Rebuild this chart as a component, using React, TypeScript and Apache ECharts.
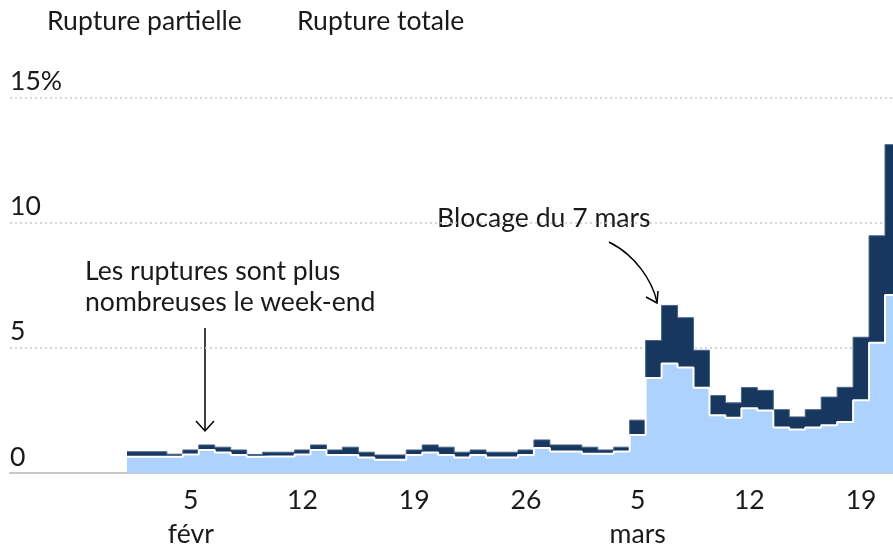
import React, { useEffect, useRef } from "react";
import * as echarts from "echarts";

// One value per day, index 0 = 1 févr 2023, last = 21 mars 2023
const partielle = [
  0.65, 0.65, 0.65, 0.65, 0.74, 0.92, 0.82, 0.72, 0.65, 0.66, 0.66, 0.74, 0.92, 0.72,
  0.72, 0.62, 0.53, 0.53, 0.72, 0.82, 0.72, 0.62, 0.72, 0.62, 0.62, 0.72, 1.0, 0.86,
  0.86, 0.77, 0.77, 0.86, 1.52, 3.79, 4.37, 4.21, 3.4, 2.31, 2.21, 2.59, 2.5, 1.82,
  1.74, 1.82, 1.91, 2.04, 2.9, 5.2, 7.11,
];
const totale = [
  0.2, 0.2, 0.2, 0.1, 0.18, 0.2, 0.21, 0.2, 0.09, 0.17, 0.17, 0.18, 0.2, 0.2,
  0.31, 0.21, 0.19, 0.19, 0.2, 0.3, 0.31, 0.21, 0.2, 0.21, 0.21, 0.2, 0.32, 0.26,
  0.26, 0.26, 0.15, 0.17, 0.59, 1.5, 2.32, 1.99, 1.5, 0.78, 0.59, 0.82, 0.8, 0.71,
  0.5, 0.71, 1.12, 1.38, 2.52, 4.27, 6.0,
];
// tick positions as day index from 1 févr
const tickDays = [4, 11, 18, 25, 32, 39, 46];
const tickLabels = ["5\nfévr", "12", "19", "26", "5\nmars", "12", "19"];
const seriesNames = ["Rupture partielle", "Rupture totale"];

const LIGHT = "#acd2fd";
const DARK = "#17375f";
const TEXT = "#1a1a1a";
const FONT = "Lato";
const FS = 26.6;

export default function App() {
  const ref = useRef<HTMLDivElement>(null);
  useEffect(() => {
    const chart = echarts.init(ref.current!, null, { renderer: "svg" });
    const txt = { fontFamily: FONT, fontSize: FS, color: TEXT };
    // stacked top of "Rupture totale" = partielle + totale
    const stackedTop = totale.map((v, i) => [i, +(partielle[i] + v).toFixed(2)]);
    chart.setOption({
      animation: false,
      grid: { left: 10, right: -6, top: 97.3, bottom: 73.3 },
      legend: [
        {
          data: [seriesNames[0]], left: 42, top: 4, padding: 0, itemWidth: 0, itemHeight: 32,
          icon: "none", selectedMode: false, textStyle: txt,
        },
        {
          data: [seriesNames[1]], left: 292, top: 4, padding: 0, itemWidth: 0, itemHeight: 32,
          icon: "none", selectedMode: false, textStyle: txt,
        },
      ],
      xAxis: {
        type: "value",
        min: -7.33,
        max: 48,
        axisLine: { show: true, lineStyle: { color: "#c8c8c8", width: 2 } },
        axisTick: { show: false },
        splitLine: { show: false },
        axisLabel: {
          customValues: tickDays,
          formatter: (v: number) => {
            const i = tickDays.indexOf(Math.round(v));
            return i >= 0 ? tickLabels[i] : "";
          },
          ...txt,
          lineHeight: 34,
          margin: 9,
        },
      },
      yAxis: {
        type: "value",
        min: 0,
        max: 15,
        interval: 5,
        axisLine: { show: false },
        axisTick: { show: false },
        axisLabel: {
          inside: true,
          margin: 0,
          verticalAlign: "bottom",
          padding: [0, 0, 4, 0],
          formatter: (v: number) => (v === 15 ? "15%" : String(v)),
          ...txt,
        },
        splitLine: { lineStyle: { type: [2, 3], color: "#cccccc", width: 1.5 } },
      },
      series: [
        {
          name: seriesNames[0],
          type: "line",
          step: "middle",
          symbol: "none",
          color: LIGHT,
          z: 3,
          data: partielle.map((v, i) => [i, v]),
          lineStyle: { color: "#ffffff", width: 2 },
          areaStyle: { color: LIGHT, opacity: 1 },
        },
        {
          name: seriesNames[1],
          type: "line",
          step: "middle",
          symbol: "none",
          color: DARK,
          z: 2,
          data: stackedTop,
          lineStyle: { color: "#4a6488", width: 1 },
          areaStyle: { color: DARK, opacity: 1 },
        },
      ],
      graphic: [
        {
          type: "text",
          left: 85,
          top: 254,
          style: {
            text: "Les ruptures sont plus\nnombreuses le week-end",
            font: `${FS}px ${FONT}`,
            fill: TEXT,
            lineHeight: 31,
          },
        },
        {
          type: "line",
          shape: { x1: 205, y1: 328, x2: 205, y2: 431 },
          style: { stroke: "#000", lineWidth: 1.5 },
        },
        {
          type: "polyline",
          shape: { points: [[196, 421], [205, 431], [214, 421]] },
          style: { stroke: "#000", lineWidth: 1.5, fill: null },
        },
        {
          type: "text",
          left: 437,
          top: 203,
          style: { text: "Blocage du 7 mars", font: `${FS}px ${FONT}`, fill: TEXT },
        },
        {
          type: "bezierCurve",
          shape: { x1: 609, y1: 242, cpx1: 635, cpy1: 255, cpx2: 652, cpy2: 280, x2: 657, y2: 302 },
          style: { stroke: "#000", lineWidth: 1.5, fill: null },
        },
        {
          type: "polyline",
          shape: { points: [[646, 297], [657, 303], [658, 291]] },
          style: { stroke: "#000", lineWidth: 1.5, fill: null },
        },
      ],
    });
    return () => chart.dispose();
  }, []);
  return (
    <div
      ref={ref}
      style={{ position: "fixed", left: 0, top: 0, width: 893, height: 550 }}
    />
  );
}
